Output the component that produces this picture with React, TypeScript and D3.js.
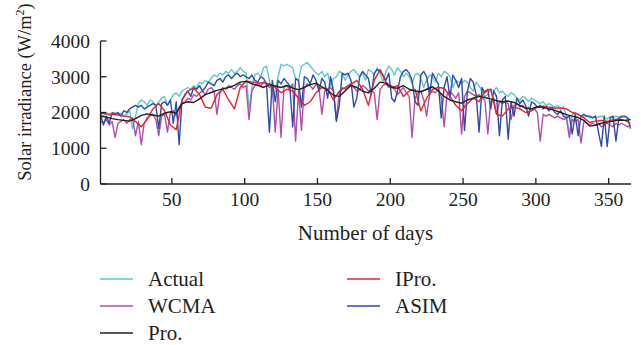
import * as d3 from "d3";

// days on the x axis
const daysDense = d3.range(1, 366, 2); // Actual, WCMA, ASIM
const daysCoarse = d3.range(1, 366, 4); // Pro., IPro.

const yTicks = [0, 1000, 2000, 3000, 4000];
const xTicks = [50, 100, 150, 200, 250, 300, 350];

// Solar irradiance (W/m2)
const actual = [
  1950, 1900, 1980, 1920, 1960, 2000, 1950, 1980, 1900, 1950,
  2050, 1550, 1900, 2250, 2350, 2300, 2200, 2350, 2300, 2200,
  2300, 2400, 2450, 2200, 2350, 2500, 2550, 2450, 2600, 2650,
  2700, 2650, 2750, 2700, 2850, 2800, 2900, 2850, 2950, 3050,
  3000, 3100, 3050, 3150, 3100, 3200, 3100, 3150, 3250, 3150,
  3100, 2100, 2700, 3050, 3100, 3000, 3250, 3300, 2900, 2450,
  2600, 3000, 3350, 3300, 3350, 3300, 3250, 2950, 2900, 3300,
  3350, 3400, 3300, 3200, 3100, 3050, 3150, 3000, 3100, 2750,
  2950, 3000, 3150, 3100, 2900, 3050, 3150, 3200, 3100, 3000,
  3100, 2900, 3200, 3150, 3050, 3250, 3100, 2850, 3150, 3300,
  3200, 3050, 3250, 3150, 3000, 3100, 3000, 2800, 3050, 3100,
  2950, 2700, 2900, 3050, 3000, 2850, 3100, 3000, 3150, 3100,
  3000, 2700, 2900, 2850, 2800, 2900, 2850, 2700, 2600, 2850,
  2750, 2600, 2450, 2500, 2650, 2600, 2700, 2550, 2600, 2500,
  2450, 2550, 2500, 2400, 2350, 2450, 2400, 2300, 2400, 2350,
  2300, 2250, 2300, 2200, 2250, 2200, 2150, 2200, 2100, 2150,
  1900, 1400, 1950, 2000, 1950, 1900, 1880, 1900, 1850, 1870,
  1850, 1880, 1900, 1850, 1820, 1880, 1850, 1900, 1870, 1850,
  1880, 1850, 1800,
];

const wcma = [
  1750, 1700, 1800, 1650, 1750, 1300, 1700, 1750, 1800, 1700,
  1800, 1850, 1350, 1750, 1100, 1700, 1850, 1900, 1950, 1800,
  1350, 1900, 1950, 1450, 2000, 2050, 1900, 2150, 2250, 2300,
  2400, 2350, 2500, 2450, 2550, 2600, 2500, 2650, 2700, 2600,
  1950, 2550, 2700, 2650, 2750, 2700, 2650, 2750, 2800, 2700,
  2750, 1800, 2600, 2750, 2800, 2750, 2850, 2800, 2700, 2750,
  1450, 2650, 1300, 2700, 2750, 2650, 2800, 1200, 2600, 1500,
  2700, 2800, 2750, 2650, 2800, 2700, 1950, 2600, 2650, 2700,
  2600, 1800, 2550, 2700, 2650, 2750, 2800, 2700, 2600, 2650,
  2750, 2700, 2600, 2650, 2550, 1800, 2650, 2750, 2800, 2700,
  2750, 2650, 2500, 2600, 2700, 2550, 2450, 1300, 2400, 2550,
  2600, 2350, 1900, 2500, 2600, 2550, 2650, 2450, 1600, 2500,
  2600, 2500, 2400, 2550, 1400, 2450, 2600, 2550, 2500, 2450,
  2500, 2400, 2350, 1400, 2300, 2400, 1950, 2300, 2250, 2300,
  2250, 1800, 2200, 2250, 2150, 2200, 2100, 2150, 2050, 2100,
  2000, 1200, 1950, 1900, 1950, 1900, 1850, 1900, 1850, 1800,
  1850, 1300, 1800, 1750, 1800, 1150, 1750, 1700, 1650, 1700,
  1650, 1700, 1600, 1650, 1700, 1650, 1600, 1700, 1650, 1700,
  1650, 1600, 1650,
];

const asim = [
  1950, 1650, 1900, 1700, 2000, 1950, 2000, 1900, 2050, 2000,
  2100, 2150, 2200, 2150, 2200, 2100, 2150, 2200, 2250, 2200,
  1550, 2250, 2300, 2200, 2350, 1700, 2300, 1100, 2350, 2500,
  2600, 2450, 2700, 2650, 2750, 2600, 2700, 2850, 2800, 2750,
  2900, 2950, 2850, 3000, 3050, 2950, 3050, 3100, 3000, 3050,
  3000, 2950, 3050, 2900, 2850, 3000, 2950, 2800, 1450, 2900,
  2300, 2900, 2800, 2950, 2850, 2750, 1600, 2950, 2900, 2150,
  3000, 2950, 2800, 3050, 2900, 2600, 2950, 2850, 2400, 3000,
  2600, 1750, 2200, 3100, 3050, 3100, 2900, 2150, 2400, 3000,
  3150, 3050, 2950, 2500, 3100, 3200, 3150, 3050, 2900, 3100,
  2400, 2300, 2600, 3000, 3150, 3200, 3100, 2900, 2300, 2200,
  3050, 3150, 3000, 2500, 3100, 2950, 2800, 1850, 2700, 3000,
  2400, 3050, 2900, 2700, 2950, 1500, 2600, 2950, 2850, 2500,
  1450, 2700, 2550, 2650, 2100, 2600, 2450, 1350, 2350, 2450,
  1250, 2300, 1900, 2400, 2250, 2350, 2200, 1900, 2300, 2250,
  2150, 2200, 2100, 2150, 2050, 2150, 2000, 1950, 2050, 1900,
  1850, 1900, 1400, 1950, 1350, 1900, 1950, 1900, 1900, 1850,
  1900, 1450, 1050, 1900, 1050, 1850, 1900, 1200, 1850, 1900,
  1900, 1850, 1550,
];

const pro = [
  1900, 1870, 1830, 1800, 1780, 1760, 1830, 1920, 1960, 1930,
  1900, 1980, 2020, 1980, 2250, 2300, 2280, 2380, 2500, 2560,
  2620, 2660, 2700, 2760, 2850, 2870, 2800, 2760, 2700, 2780,
  2740, 2700, 2760, 2680, 2640, 2700, 2780, 2820, 2720, 2620,
  2480, 2450, 2600, 2760, 2700, 2600, 2550, 2680, 2850, 2820,
  2700, 2680, 2750, 2650, 2600, 2580, 2650, 2720, 2600, 2450,
  2350, 2300, 2260, 2350, 2400, 2450, 2420, 2380, 2330, 2300,
  2320, 2280, 2200, 2120, 2100, 2160, 2150, 2100, 2060, 2000,
  1940, 1900, 1860, 1780, 1620, 1640, 1700, 1730, 1760, 1790,
  1780, 1800,
];

const ipro = [
  1980, 1960, 1950, 1930, 1900, 1880, 1750, 1600, 1800, 2100,
  2250, 2050, 1650, 1520, 2350, 2600, 2680, 2500, 2150, 2120,
  2500, 2650, 2350, 2100, 2700, 2880, 2850, 2820, 2840, 2800,
  2700, 2550, 2650, 2600, 2400, 2200, 2300, 2550, 2700, 2650,
  2350, 2600, 2700, 2780, 2900, 2650, 2200, 2900, 3200, 2850,
  2700, 2750, 2450, 2600, 2650, 2050, 2400, 2650, 2700, 2680,
  2450, 2200, 2050, 2250, 2400, 2300, 2600, 2650, 1950, 1900,
  2100, 2150, 2100, 2000, 2050, 2150, 2180, 2150, 2120, 2130,
  2100, 2000, 1950, 1850, 1720, 1760, 1780, 1750, 1800, 1820,
  1780, 1700,
];

const series = [
  { name: "Actual", color: "#5dc6d8", days: daysDense, values: actual },
  { name: "WCMA", color: "#b14ea8", days: daysDense, values: wcma },
  { name: "ASIM", color: "#2d4ca8", days: daysDense, values: asim },
  { name: "IPro.", color: "#ec2128", days: daysCoarse, values: ipro },
  { name: "Pro.", color: "#231f20", days: daysCoarse, values: pro },
];

const legendOrder = [
  ["Actual", "WCMA", "Pro."],
  ["IPro.", "ASIM"],
];

const font = "'Liberation Serif', 'Times New Roman', serif";

export default function App() {
  const width = 641;
  const height = 345;

  const x = d3.scaleLinear().domain([1, 365]).range([100.5, 630.5]);
  const y = d3.scaleLinear().domain([0, 4000]).range([184, 41]);

  const line = d3
    .line<[number, number]>()
    .x((d) => x(d[0]))
    .y((d) => y(d[1]));

  const colorOf = (name: string) => series.find((s) => s.name === name)!.color;

  return (
    <svg
      width={width}
      height={height}
      style={{ position: "absolute", left: 0, top: 0, background: "#fff" }}
      fontFamily={font}
    >
      {/* data lines */}
      <g fill="none" strokeWidth={1.4} strokeLinejoin="round">
        {series.map((s) => (
          <path
            key={s.name}
            d={line(s.days.map((d, i) => [d, s.values[i]] as [number, number])) ?? ""}
            stroke={s.color}
          />
        ))}
      </g>

      {/* axes */}
      <g stroke="#231f20" strokeWidth={1.3}>
        <line x1={x(1)} x2={x(1)} y1={y(4000)} y2={y(0)} />
        <line x1={x(1)} x2={x(365) + 0.5} y1={y(0)} y2={y(0)} />
        {yTicks.map((t) => (
          <line key={t} x1={x(1)} x2={x(1) + 6} y1={y(t)} y2={y(t)} />
        ))}
        {xTicks.map((t) => (
          <line key={t} x1={x(t)} x2={x(t)} y1={y(0)} y2={y(0) - 6} />
        ))}
      </g>

      <g fontSize={19.5} fill="#231f20">
        {yTicks.map((t) => (
          <text key={t} x={90} y={y(t)} dy="0.35em" textAnchor="end">
            {t}
          </text>
        ))}
        {xTicks.map((t) => (
          <text key={t} x={x(t)} y={206} textAnchor="middle">
            {t}
          </text>
        ))}
      </g>

      <text x={365.5} y={240} textAnchor="middle" fontSize={21} fill="#231f20">
        Number of days
      </text>
      <text
        transform="translate(31,92) rotate(-90)"
        textAnchor="middle"
        fontSize={18.5}
        fill="#231f20"
      >
        Solar irradiance (W/m
        <tspan dy={-7} fontSize={12}>
          2
        </tspan>
        <tspan dy={7}>)</tspan>
      </text>

      {/* legend */}
      {legendOrder.map((col, ci) =>
        col.map((name, ri) => {
          const lx = ci === 0 ? 100 : 347;
          const ly = 279 + ri * 27;
          return (
            <g key={name}>
              <line x1={lx} x2={lx + 33} y1={ly} y2={ly} stroke={colorOf(name)} strokeWidth={1.6} />
              <text x={lx + 48} y={ly} dy="0.35em" fontSize={21} fill="#231f20">
                {name}
              </text>
            </g>
          );
        })
      )}
    </svg>
  );
}
